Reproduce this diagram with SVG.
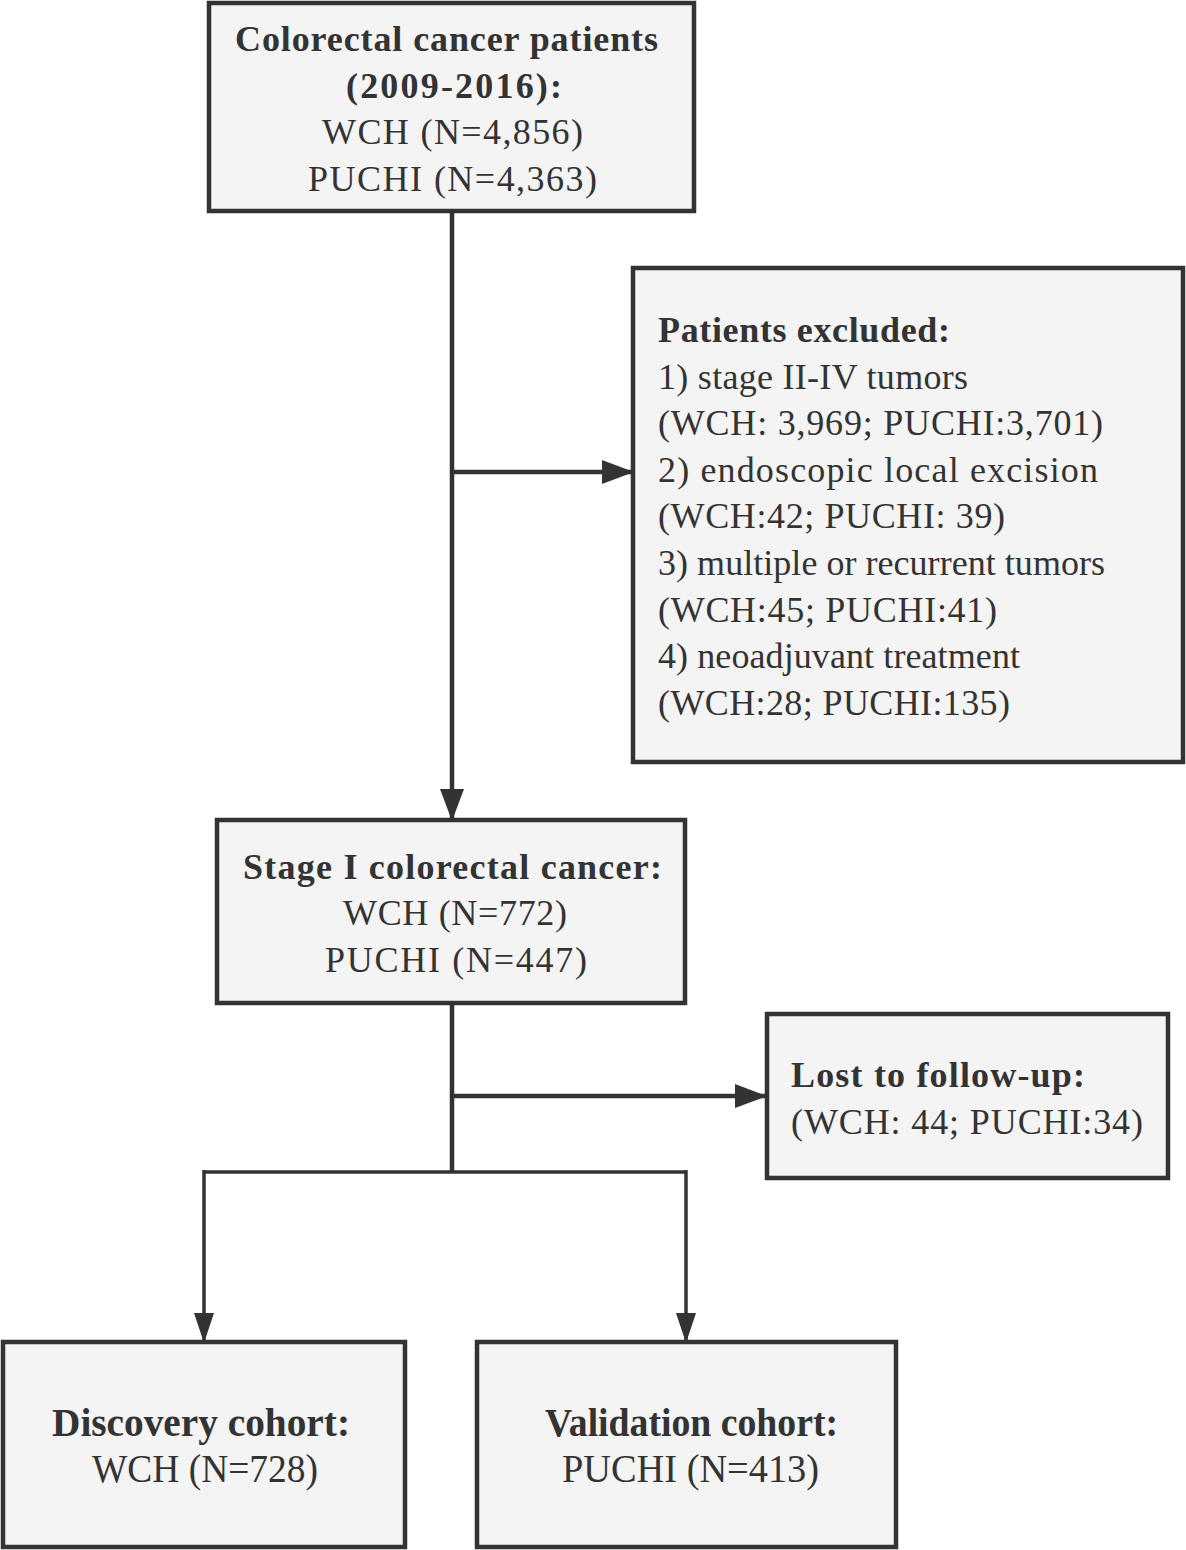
<svg xmlns="http://www.w3.org/2000/svg" width="1186" height="1550" viewBox="0 0 1186 1550">
<style>
.box{fill:#f4f4f4;stroke:#333;stroke-width:4.5}
.t{font-family:"Liberation Serif","Times New Roman",serif;fill:#333;font-size:36px}
.b{font-weight:bold}
.big{font-size:39px}
.ln{fill:none;stroke:#333;stroke-width:4.5}
.ln2{fill:none;stroke:#333;stroke-width:3.5}
</style>
<defs>
<marker id="ah" viewBox="0 0 32 24" refX="31" refY="12" markerWidth="32" markerHeight="24" markerUnits="userSpaceOnUse" orient="auto"><path d="M0,0 L32,12 L0,24 Z" fill="#333"/></marker>
<marker id="ah2" viewBox="0 0 30 20" refX="29" refY="10" markerWidth="30" markerHeight="20" markerUnits="userSpaceOnUse" orient="auto"><path d="M0,0 L30,10 L0,20 Z" fill="#333"/></marker>
</defs>
<rect width="1186" height="1550" fill="#fff"/>
<g id="connectors">
<path class="ln" d="M452 211 V820" marker-end="url(#ah)"/>
<path class="ln" d="M452 472 H633" marker-end="url(#ah)"/>
<path class="ln" d="M452 1003 V1172"/>
<path class="ln" d="M452 1096 H766" marker-end="url(#ah)"/>
<path class="ln2" d="M204 1172 H686"/>
<path class="ln2" d="M204 1170 V1342" marker-end="url(#ah2)"/>
<path class="ln2" d="M686 1170 V1342" marker-end="url(#ah2)"/>
</g>
<g id="n-start">
<rect class="box" x="209" y="3" width="485" height="208"/>
<text class="t b" x="235" y="51" textLength="423" lengthAdjust="spacing">Colorectal cancer patients</text>
<text class="t b" x="346" y="98" textLength="216" lengthAdjust="spacing">(2009-2016):</text>
<text class="t" x="322" y="144" textLength="261" lengthAdjust="spacing">WCH (N=4,856)</text>
<text class="t" x="308" y="191" textLength="289" lengthAdjust="spacing">PUCHI (N=4,363)</text>
</g>
<g id="n-excluded">
<rect class="box" x="633" y="268" width="550" height="494"/>
<text class="t b" x="658" y="342" textLength="292" lengthAdjust="spacing">Patients excluded:</text>
<text class="t" x="658" y="389" textLength="310" lengthAdjust="spacing">1) stage II-IV tumors</text>
<text class="t" x="658" y="435" textLength="445" lengthAdjust="spacing">(WCH: 3,969; PUCHI:3,701)</text>
<text class="t" x="658" y="482" textLength="440" lengthAdjust="spacing">2) endoscopic local excision</text>
<text class="t" x="658" y="528" textLength="347" lengthAdjust="spacing">(WCH:42; PUCHI: 39)</text>
<text class="t" x="658" y="575" textLength="447" lengthAdjust="spacing">3) multiple or recurrent tumors</text>
<text class="t" x="658" y="622" textLength="339" lengthAdjust="spacing">(WCH:45; PUCHI:41)</text>
<text class="t" x="658" y="668" textLength="362" lengthAdjust="spacing">4) neoadjuvant treatment</text>
<text class="t" x="658" y="715" textLength="352" lengthAdjust="spacing">(WCH:28; PUCHI:135)</text>
</g>
<g id="n-stage1">
<rect class="box" x="217" y="820" width="468" height="183"/>
<text class="t b" x="243" y="879" textLength="419" lengthAdjust="spacing">Stage I colorectal cancer:</text>
<text class="t" x="343" y="925" textLength="224" lengthAdjust="spacing">WCH (N=772)</text>
<text class="t" x="325" y="972" textLength="262" lengthAdjust="spacing">PUCHI (N=447)</text>
</g>
<g id="n-lost">
<rect class="box" x="767" y="1014" width="401" height="164"/>
<text class="t b" x="791" y="1087" textLength="294" lengthAdjust="spacing">Lost to follow-up:</text>
<text class="t" x="791" y="1134" textLength="352" lengthAdjust="spacing">(WCH: 44; PUCHI:34)</text>
</g>
<g id="n-discovery">
<rect class="box" x="3" y="1342" width="402" height="205"/>
<text class="t b big" x="52" y="1436" textLength="298" lengthAdjust="spacingAndGlyphs">Discovery cohort:</text>
<text class="t big" x="92" y="1482" textLength="226" lengthAdjust="spacingAndGlyphs">WCH (N=728)</text>
</g>
<g id="n-validation">
<rect class="box" x="477" y="1342" width="419" height="205"/>
<text class="t b big" x="545" y="1436" textLength="293" lengthAdjust="spacingAndGlyphs">Validation cohort:</text>
<text class="t big" x="562" y="1482" textLength="257" lengthAdjust="spacingAndGlyphs">PUCHI (N=413)</text>
</g>
</svg>
